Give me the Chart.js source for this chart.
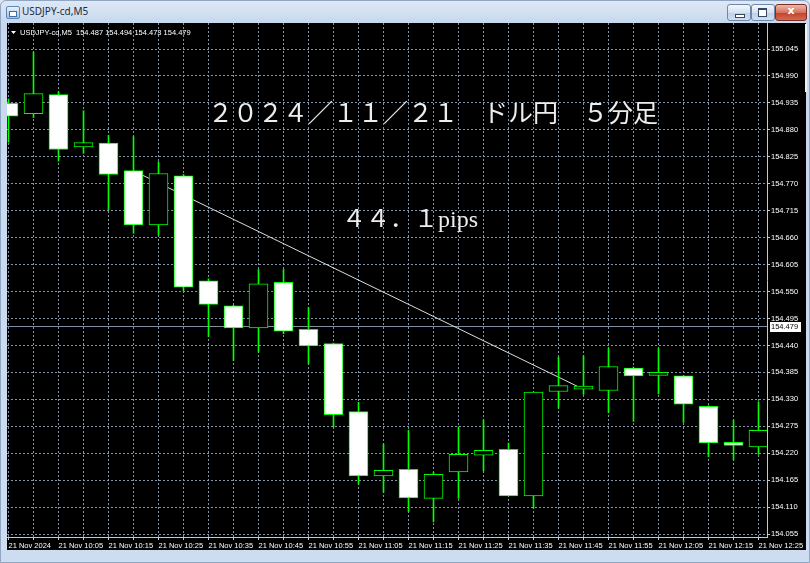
<!DOCTYPE html>
<html><head><meta charset="utf-8">
<script src="https://cdn.jsdelivr.net/npm/chart.js@4.4.1/dist/chart.umd.min.js"></script>
<style>
html,body{margin:0;padding:0;}
body{width:810px;height:563px;overflow:hidden;position:relative;background:linear-gradient(#dfe9f6 0px,#c8d9ee 22px,#cddcee 100%);font-family:"Noto Sans",sans-serif;}
#frame{position:absolute;left:0;top:0;width:808px;height:561px;border:1px solid #90a6c2;border-radius:6px 6px 0 0;}
#icon{position:absolute;left:6px;top:6px;width:12px;height:11px;border:1px solid #5f86b8;background:linear-gradient(#eaf2fb,#9dbfe6);border-radius:2px;}
#icon:after{content:"";position:absolute;left:2px;top:4px;width:6px;height:4px;border:1px solid #3f6ea8;background:#fff;}
#title{position:absolute;left:22px;top:4px;font-size:10px;line-height:14px;color:#1e2a3a;}
.btn{position:absolute;top:4px;height:15px;border:1px solid #6f86a6;border-radius:3px;background:linear-gradient(#f3f7fc,#d4e1f1 50%,#bccfe8 51%,#cfdff2);}
#bmin{left:727px;width:22px;}
#bmax{left:751px;width:22px;}
#bclose{left:775px;width:30px;border-color:#7a2e25;background:linear-gradient(#f0b7a8,#d5735e 50%,#c4402a 51%,#d26a52);}
#bmin:after{content:"";position:absolute;left:7px;top:9px;width:8px;height:2px;background:#fff;border:1px solid #33475f;}
#bmax:after{content:"";position:absolute;left:6px;top:3px;width:7px;height:6px;border:1px solid #33475f;border-top-width:2px;background:#fff;box-shadow:inset 0 0 0 1px #fff;}
#bclose span{position:absolute;left:0;top:-1px;width:30px;text-align:center;color:#fff;font:bold 11px "DejaVu Sans",sans-serif;}
#client{position:absolute;left:7px;top:23px;width:799px;height:527px;background:#000;}
#strip{position:absolute;left:805px;top:24px;width:2px;height:68px;background:#eef3f9;}
canvas{display:block;}
</style></head>
<body>
<div id="frame"></div>
<div id="icon"></div>
<div id="title">USDJPY-cd,M5</div>
<div class="btn" id="bmin"></div>
<div class="btn" id="bmax"></div>
<div class="btn" id="bclose"><span>x</span></div>
<div id="client"><canvas id="c" width="799" height="527"></canvas></div>
<div id="strip"></div>
<script>
// ---- data ----
const times = ['09:55','10:00','10:05','10:10','10:15','10:20','10:25','10:30','10:35','10:40','10:45','10:50','10:55','11:00','11:05','11:10','11:15','11:20','11:25','11:30','11:35','11:40','11:45','11:50','11:55','12:00','12:05','12:10','12:15','12:20','12:25'];
const opens  = [154.934,154.913,154.952,154.845,154.853,154.797,154.686,154.786,154.572,154.521,154.476,154.569,154.473,154.444,154.305,154.174,154.187,154.128,154.182,154.216,154.228,154.133,154.346,154.351,154.348,154.394,154.379,154.378,154.316,154.238,154.233];
const highs  = [154.943,155.039,154.958,154.919,154.869,154.866,154.815,154.789,154.576,154.522,154.595,154.595,154.518,154.445,154.324,154.239,154.267,154.181,154.274,154.288,154.241,154.345,154.416,154.419,154.434,154.396,154.434,154.378,154.317,154.288,154.325];
const lows   = [154.855,154.905,154.816,154.832,154.717,154.669,154.665,154.551,154.458,154.409,154.426,154.464,154.402,154.274,154.157,154.140,154.101,154.080,154.128,154.184,154.133,154.108,154.312,154.340,154.303,154.285,154.341,154.283,154.213,154.206,154.218];
const closes = [154.908,154.954,154.840,154.854,154.789,154.686,154.791,154.559,154.524,154.476,154.566,154.469,154.439,154.299,154.174,154.185,154.129,154.177,154.218,154.226,154.133,154.345,154.358,154.353,154.397,154.378,154.381,154.320,154.241,154.236,154.267];
const priceTicks = ['154.055','154.110','154.165','154.220','154.275','154.330','154.385','154.440','154.495','154.550','154.605','154.660','154.715','154.770','154.825','154.880','154.935','154.990','155.045'];
const timeLabels = times.map((t,i)=> i===0 ? '21 Nov 2024' : '21 Nov ' + t);
const trendX = [5.38, 22.86];
const trendY = [154.787, 154.354];
const lastPrice = 154.479;
const lastPriceLabel = '154.479';
const headerText = 'USDJPY-cd,M5  154.487 154.494 154.473 154.479';
const note1 = '２０２４／１１／２１　ドル円　５分足';
const note2 = '４４．１pips';

// ---- styles ----
const AX_FONT = '"Liberation Sans",Arial,sans-serif';
const AX_SIZE = 7.5;
const NOTE1_FONT = '25px "Liberation Serif","Noto Sans CJK JP",serif';
const NOTE2_FONT = '24px "Liberation Serif","Noto Sans CJK JP",serif';
const GRID = '#8494a8';
const EDGE = '#c8c8c8';
const LIME = '#00ff00';

const idx = times.map((t,i)=>i);

const overlay = {
  id:'overlay',
  beforeDatasetsDraw(chart){
    const {ctx, chartArea:a, scales:{y}} = chart;
    const py = Math.round(y.getPixelForValue(lastPrice)) + 0.5;
    ctx.save();
    ctx.strokeStyle = '#7f8fa3'; ctx.lineWidth = 1;
    ctx.beginPath(); ctx.moveTo(a.left, py); ctx.lineTo(a.right, py); ctx.stroke();
    ctx.restore();
  },
  afterDraw(chart){
    const {ctx, chartArea:a, scales:{y}} = chart;
    ctx.save();
    // header
    ctx.fillStyle = '#ffffff';
    ctx.beginPath(); ctx.moveTo(4,8); ctx.lineTo(9,8); ctx.lineTo(6.5,11); ctx.closePath(); ctx.fill();
    ctx.font = AX_SIZE + 'px ' + AX_FONT; ctx.textBaseline = 'middle'; ctx.textAlign = 'left';
    ctx.fillText(headerText, 13, 9.5);
    // current price box
    const py = Math.round(y.getPixelForValue(lastPrice));
    ctx.fillStyle = '#ffffff';
    ctx.fillRect(a.right + 3, py - 4, 31, 10);
    ctx.fillStyle = '#000000';
    ctx.fillText(lastPriceLabel, a.right + 4, py + 1);
    // notes
    ctx.textBaseline = 'alphabetic'; ctx.fillStyle = '#ededed';
    ctx.font = NOTE1_FONT;
    ctx.fillText(note1, 201, 99);
    ctx.font = NOTE2_FONT;
    ctx.fillText(note2, 335, 204);
    ctx.restore();
  }
};

new Chart(document.getElementById('c'), {
  type:'bar',
  data:{
    datasets:[
      { type:'line', data: trendX.map((x,i)=>({x:x, y:trendY[i]})), borderColor:'#dedede', borderWidth:1, pointRadius:0, order:3 },
      { type:'bar', data: idx.map(i=>({x:i, y:[lows[i], highs[i]]})), backgroundColor:LIME, borderWidth:0, barThickness:1, grouped:false, order:2, clip:0 },
      { type:'bar', data: idx.map(i=>({x:i, y:[opens[i], closes[i]]})),
        backgroundColor: idx.map(i=> closes[i] < opens[i] ? '#ffffff' : '#000000'),
        borderColor:LIME, borderWidth:1, borderSkipped:false, barThickness:19, minBarLength:3, grouped:false, order:1, clip:0 }
    ]
  },
  options:{
    responsive:false, animation:false, devicePixelRatio:1,
    layout:{padding:0},
    plugins:{legend:{display:false}, tooltip:{enabled:false}},
    scales:{
      x:{
        type:'linear', min:-0.06, max:30.34, offset:false, bounds:'data',
        afterBuildTicks: s => { s.ticks = idx.map(i=>({value:i})); },
        afterFit: s => { s.height = 13; s.paddingLeft = 0; s.paddingRight = 0; },
        ticks:{ color:'#ffffff', font:{family:AX_FONT, size:AX_SIZE}, padding:1, align:'start', maxRotation:0, minRotation:0, autoSkip:false,
                callback:(v,i)=> i % 2 === 0 ? timeLabels[i] : '' },
        grid:{ color:GRID, lineWidth:1, offset:false, tickLength:3, tickColor:EDGE },
        border:{ display:true, color:EDGE, width:1, dash:[2,2] }
      },
      y:{
        type:'linear', position:'right', min:154.0491, max:155.0981, bounds:'data', beginAtZero:false,
        afterBuildTicks: s => { s.ticks = priceTicks.map(v=>({value:parseFloat(v)})); },
        afterFit: s => { s.width = 39; s.paddingTop = 0; s.paddingBottom = 0; },
        ticks:{ color:'#ffffff', font:{family:AX_FONT, size:AX_SIZE}, padding:1, crossAlign:'near',
                callback:(v,i)=> priceTicks[i] },
        grid:{ color:GRID, lineWidth:1, tickLength:3, tickColor:EDGE },
        border:{ display:true, color:EDGE, width:1, dash:[2,2] }
      }
    }
  },
  plugins:[overlay]
});
</script>
</body></html>
